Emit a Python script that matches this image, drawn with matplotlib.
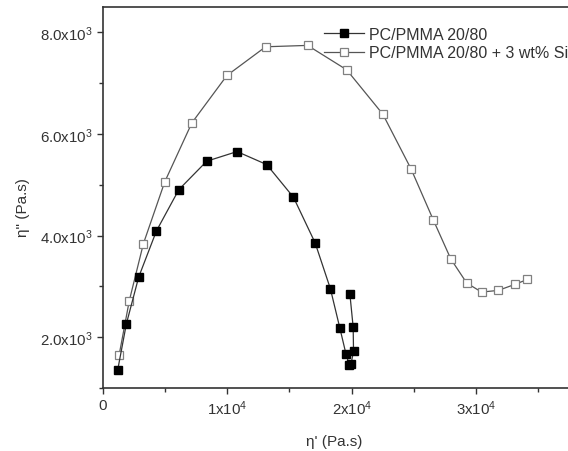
import matplotlib
matplotlib.use('Agg')
from matplotlib import pyplot as plt
from matplotlib.ticker import FuncFormatter, MultipleLocator

plt.rcParams['font.family'] = ['Liberation Sans', 'DejaVu Sans']
plt.rcParams['mathtext.default'] = 'regular'

# PC/PMMA 20/80 (filled squares)
etaPrimeBlend = [1220, 1916, 2904, 4326, 6127, 8362, 10801, 13182, 15331, 17073,
                 18293, 19048, 19541, 19803, 19948, 20151, 20122, 19861]
etaDoublePrimeBlend = [1357, 2264, 3184, 4091, 4905, 5464, 5654, 5398, 4754, 3854,
                       2954, 2185, 1673, 1456, 1470, 1725, 2198, 2842]

# PC/PMMA 20/80 + 3 wt% Si (open squares)
etaPrimeSilica = [1336, 2149, 3281, 4994, 7172, 9988, 13095, 16463, 19599, 22503,
                  24768, 26568, 27962, 29239, 30430, 31766, 33101, 34117]
etaDoublePrimeSilica = [1653, 2718, 3841, 5057, 6219, 7152, 7717, 7744, 7264, 6390,
                        5313, 4301, 3539, 3066, 2888, 2921, 3039, 3138]

labelBlend = 'PC/PMMA 20/80'
labelSilica = 'PC/PMMA 20/80 + 3 wt% Si'


def formatX(value, position):
    if abs(value) < 1e-9:
        return '0'
    if value > 35000:
        # falls outside the cropped picture
        return ''
    return '{0:.0f}x10$^4$'.format(value / 1e4)


def formatY(value, position):
    return '{0:.1f}x10$^3$'.format(value / 1e3)


figure = plt.figure(figsize=(5.68, 4.52), dpi=100)
axis = figure.add_axes([0.1805, 0.1394, 0.8772, 0.8429])

axis.plot(etaPrimeBlend, etaDoublePrimeBlend, color='#333333', linewidth=0.9,
          marker='s', markersize=5.3, markerfacecolor='black', markeredgecolor='black',
          label=labelBlend, zorder=3)
axis.plot(etaPrimeSilica, etaDoublePrimeSilica, color='#555555', linewidth=0.9,
          marker='s', markersize=5.3, markerfacecolor='white', markeredgecolor='#808080',
          markeredgewidth=0.9, label=labelSilica, zorder=2)

axis.set_xlim(0, 40000)
axis.set_ylim(1000, 8500)

axis.xaxis.set_major_locator(MultipleLocator(10000))
axis.xaxis.set_minor_locator(MultipleLocator(5000))
axis.yaxis.set_major_locator(MultipleLocator(2000))
axis.yaxis.set_minor_locator(MultipleLocator(1000))
axis.xaxis.set_major_formatter(FuncFormatter(formatX))
axis.yaxis.set_major_formatter(FuncFormatter(formatY))

axis.tick_params(which='major', direction='out', length=4.5, width=1.0,
                 color='#333333', labelsize=10.8, labelcolor='#333333', pad=3)
axis.tick_params(which='minor', direction='out', length=3, width=1.0, color='#333333')
axis.tick_params(top=False, right=False, which='both')

for spine in axis.spines.values():
    spine.set_linewidth(1.2)
    spine.set_color('#333333')

figure.text(0.588, 0.022, "\u03b7' (Pa.s)", ha='center', va='center',
            fontsize=11, color='#333333')
figure.text(0.040, 0.54, '\u03b7" (Pa.s)', ha='center', va='center',
            rotation=90, fontsize=11, color='#333333')

axis.legend(loc='upper left', bbox_to_anchor=(0.570, 0.938),
            bbox_transform=figure.transFigure, frameon=False, fontsize=11.5,
            handlelength=2.5, handletextpad=0.35, labelspacing=0.2,
            borderaxespad=0, borderpad=0, labelcolor='#333333')

plt.savefig('out.png', dpi=100)
